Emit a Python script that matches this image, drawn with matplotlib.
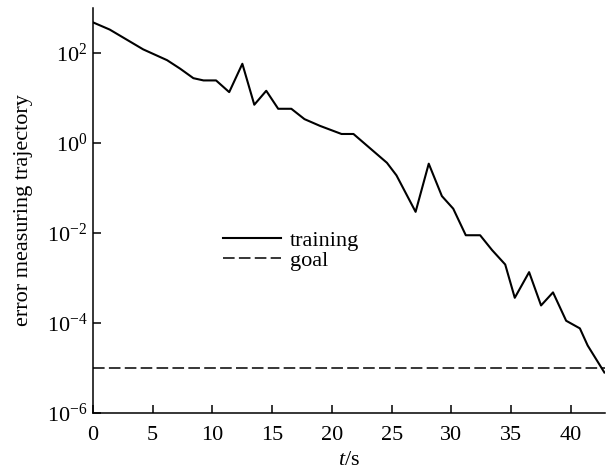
import numpy as np
import matplotlib
matplotlib.use('Agg')
import matplotlib.pyplot as plt
from matplotlib.ticker import LogLocator, NullLocator

#%% Dados
t_train = [0, 1.4, 4.2, 6.2, 7.3, 8.4, 9.25, 10.3, 11.4, 12.5, 13.5, 14.5, 15.5, 16.6,
           17.7, 19.0, 20.8, 21.8, 23.2, 24.6, 25.4, 27.0, 28.1, 29.2, 30.15, 31.2,
           32.4, 33.4, 34.5, 35.3, 36.5, 37.5, 38.5, 39.6, 40.75, 41.4, 42.8]
log_err = [2.68, 2.52, 2.08, 1.84, 1.65, 1.44, 1.39, 1.39, 1.13, 1.76, 0.85, 1.16, 0.76, 0.76,
           0.53, 0.38, 0.20, 0.20, -0.12, -0.44, -0.72, -1.53, -0.46, -1.18, -1.46, -2.05,
           -2.05, -2.38, -2.70, -3.44, -2.87, -3.61, -3.32, -3.95, -4.12, -4.50, -5.10]
goal = 1e-5

err_train = [10 ** v for v in log_err]

#%% Estilo
plt.rcParams['font.family'] = ['Liberation Serif', 'DejaVu Serif']
plt.rcParams['mathtext.fontset'] = 'custom'
plt.rcParams['mathtext.rm'] = 'Liberation Serif'
plt.rcParams['mathtext.it'] = 'Liberation Serif:italic'
plt.rcParams['font.size'] = 16

fig = plt.figure(figsize=(6.09, 4.69), dpi=100)
ax = fig.add_axes([0.1527, 0.1194, 0.9934 - 0.1527, 0.983 - 0.1194])

ax.semilogy(t_train, err_train, color='black', lw=1.5, label='training')
ax.axhline(goal, color='black', lw=1.1, ls=(0, (7.6, 2.8)), label='goal')

ax.set_xlim(0, 42.85)
ax.set_ylim(1e-6, 1e3)
ax.set_xticks(np.arange(0, 41, 5))
ax.yaxis.set_major_locator(LogLocator(base=100))
ax.yaxis.set_minor_locator(NullLocator())

for s in ['top', 'right']:
    ax.spines[s].set_visible(False)
for s in ['left', 'bottom']:
    ax.spines[s].set_linewidth(1.1)
ax.tick_params(direction='in', length=6, width=1.1, labelsize=16)
ax.tick_params(axis='x', pad=9)
ax.tick_params(axis='y', pad=4)

ax.set_xlabel(r'$t$/s', fontsize=16, labelpad=5)
ax.set_ylabel('error measuring trajectory', fontsize=16, labelpad=10)

ax.legend(loc='center left', bbox_to_anchor=(0.233, 0.401), frameon=False, fontsize=16,
          handlelength=2.6, handletextpad=0.4, labelspacing=-0.03, borderpad=0)

fig.savefig('out.png', dpi=100)
